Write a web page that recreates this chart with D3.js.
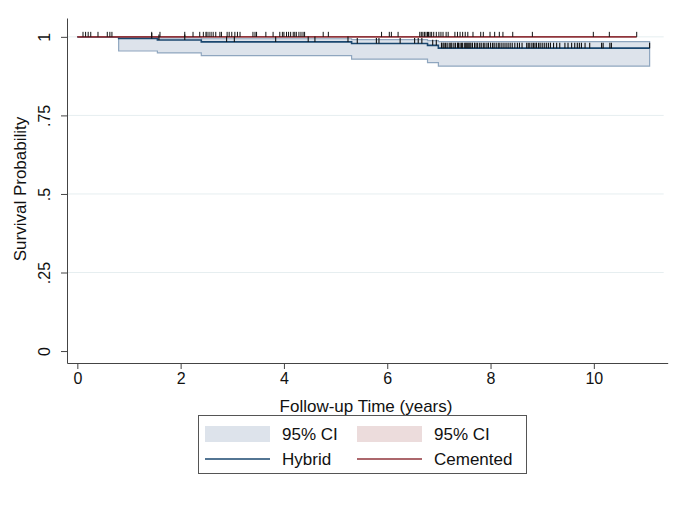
<!DOCTYPE html>
<html>
<head>
<meta charset="utf-8">
<script src="https://cdnjs.cloudflare.com/ajax/libs/d3/7.8.5/d3.min.js"></script>
<style>
  body { margin: 0; background: #fff; }
  text { font-family: "Liberation Sans", Arial, sans-serif; fill: #111; }
</style>
</head>
<body>
<div id="chart"></div>
<script>
// Kaplan-Meier steps
var hybridTimes = [0, 0.80, 1.55, 2.40, 5.31, 6.78, 6.99, 11.08];
var hybridSurv  = [1, 0.995, 0.990, 0.984, 0.979, 0.973, 0.964, 0.964];
var hybridLo    = [1, 0.955, 0.949, 0.940, 0.929, 0.918, 0.907, 0.907];
var hybridHi    = [1, 0.999, 0.997, 0.994, 0.991, 0.988, 0.985, 0.985];

var cementedTimes = [0, 10.83];
var cementedSurv  = [1, 1];

// censoring marks
var cementedCens = [0.11,0.16,0.21,0.26,0.40,0.58,0.63,0.67,1.44,1.60,2.08,2.24,
  2.37,2.44,2.49,2.51,2.55,2.59,2.63,2.68,2.76,2.79,2.90,2.94,2.99,3.05,3.10,3.15,
  3.40,3.44,3.47,3.65,3.79,3.92,3.97,4.00,4.05,4.09,4.13,4.18,4.21,4.24,4.29,4.33,
  4.37,4.40,4.76,4.86,5.89,6.04,6.08,6.21,6.63,6.66,6.69,6.72,6.75,6.78,6.80,6.83,
  6.86,6.90,6.95,7.00,7.04,7.08,7.14,7.18,7.31,7.36,7.41,7.46,7.51,7.56,7.66,7.81,
  7.86,7.99,8.08,8.17,8.24,8.43,8.81,9.99,10.30,10.83];

var hybridCens = [1.44,1.58,2.08,2.89,3.04,3.84,4.47,4.60,5.24,5.42,5.79,5.84,6.25,
  6.53,6.60,6.67,6.88,6.95,7.05,7.08,7.10,7.13,7.16,7.20,7.23,7.25,7.29,7.32,7.36,
  7.38,7.41,7.44,7.46,7.50,7.52,7.54,7.56,7.58,7.60,7.62,7.65,7.69,7.72,7.75,7.79,
  7.82,7.86,7.89,7.93,7.96,8.00,8.04,8.07,8.11,8.15,8.18,8.22,8.26,8.30,8.34,8.38,
  8.42,8.47,8.52,8.56,8.61,8.70,8.73,8.76,8.80,8.83,8.86,8.89,8.93,8.96,9.00,9.04,
  9.08,9.12,9.16,9.22,9.28,9.34,9.44,9.50,9.57,9.63,9.68,9.72,9.76,9.83,9.92,10.15,
  10.18,10.31,10.34,11.08];

var xTicks = [0, 2, 4, 6, 8, 10];
var yTicks = [0, 0.25, 0.5, 0.75, 1];
var yTickLabels = ["0", ".25", ".5", ".75", "1"];
var gridVals = [0.25, 0.5, 0.75, 1];

var w = 680, h = 519,
    svg = d3.select("#chart").append("svg")
        .attr("width", w)
        .attr("height", h);

var x = d3.scaleLinear().domain([-0.2, 11.43]).range([67, 667.7]);
var y = d3.scaleLinear().domain([-0.038, 1.06]).range([363, 18]);

// step function helper: value at t from step arrays
function stepAt(times, vals, t) {
  var i = d3.bisectRight(times, t) - 1;
  return vals[Math.max(0, i)];
}

// gridlines
svg.selectAll("line.grid")
    .data(gridVals)
  .enter().append("line")
    .attr("class", "grid")
    .attr("x1", x.range()[0]).attr("x2", x.range()[1] - 4)
    .attr("y1", function(d) { return y(d); })
    .attr("y2", function(d) { return y(d); })
    .attr("stroke", "#e6eef0")
    .attr("stroke-width", 1);

// CI band for hybrid (starts at first event)
var band = hybridTimes.map(function(t, i) {
  return { t: t, lo: hybridLo[i], hi: hybridHi[i] };
}).slice(1);

var area = d3.area()
    .curve(d3.curveStepAfter)
    .x(function(d) { return x(d.t); })
    .y0(function(d) { return y(d.lo); })
    .y1(function(d) { return y(d.hi); });

svg.append("path")
    .datum(band)
    .attr("d", area)
    .attr("fill", "#dde3eb")
    .attr("stroke", "#8fa6bf")
    .attr("stroke-width", 1.2);

var line = d3.line()
    .curve(d3.curveStepAfter)
    .x(function(d) { return x(d[0]); })
    .y(function(d) { return y(d[1]); });

svg.append("path")
    .datum(d3.zip(hybridTimes, hybridSurv))
    .attr("d", line)
    .attr("fill", "none")
    .attr("stroke", "#1a476f")
    .attr("stroke-width", 1.6);

svg.append("path")
    .datum(d3.zip(cementedTimes, cementedSurv))
    .attr("d", line)
    .attr("fill", "none")
    .attr("stroke", "#90353b")
    .attr("stroke-width", 1.6);

// censoring ticks
svg.selectAll("line.hc")
    .data(hybridCens)
  .enter().append("line")
    .attr("class", "hc")
    .attr("x1", function(d) { return x(d); })
    .attr("x2", function(d) { return x(d); })
    .attr("y1", function(d) { return y(stepAt(hybridTimes, hybridSurv, d)); })
    .attr("y2", function(d) { return y(stepAt(hybridTimes, hybridSurv, d)) - 5.5; })
    .attr("stroke", "#111")
    .attr("stroke-width", 1.1);

svg.selectAll("line.cc")
    .data(cementedCens)
  .enter().append("line")
    .attr("class", "cc")
    .attr("x1", function(d) { return x(d); })
    .attr("x2", function(d) { return x(d); })
    .attr("y1", function(d) { return y(stepAt(cementedTimes, cementedSurv, d)); })
    .attr("y2", function(d) { return y(stepAt(cementedTimes, cementedSurv, d)) - 5; })
    .attr("stroke", "#111")
    .attr("stroke-width", 1);

// axes
var xAxis = svg.append("g")
    .attr("transform", "translate(0," + y.range()[0] + ")")
    .call(d3.axisBottom(x).tickValues(xTicks).tickSize(6).tickSizeOuter(0).tickPadding(4));

var yAxis = svg.append("g")
    .attr("transform", "translate(" + x.range()[0] + ",0)")
    .call(d3.axisLeft(y).tickValues(yTicks).tickSize(6).tickSizeOuter(0)
      .tickFormat(function(d, i) { return yTickLabels[i]; }));

[xAxis, yAxis].forEach(function(g) {
  g.select(".domain").attr("stroke", "#444");
  g.selectAll(".tick line").attr("stroke", "#444");
  g.selectAll("text").style("font-family", "'Liberation Sans', Arial, sans-serif")
    .style("font-size", "16px").attr("fill", "#111");
});

yAxis.selectAll(".tick text")
    .attr("x", 0).attr("dy", 0)
    .attr("text-anchor", "middle")
    .attr("transform", "translate(-17,0) rotate(-90)");

// axis titles
svg.append("text")
    .attr("x", 366).attr("y", 412)
    .attr("text-anchor", "middle")
    .style("font-size", "17px")
    .text("Follow-up Time (years)");

svg.append("text")
    .attr("transform", "translate(26,189) rotate(-90)")
    .attr("text-anchor", "middle")
    .style("font-size", "17px")
    .text("Survival Probability");

// legend
var lg = svg.append("g");
lg.append("rect")
    .attr("x", 198.5).attr("y", 415.5).attr("width", 328).attr("height", 58)
    .attr("fill", "#fff").attr("stroke", "#555").attr("stroke-width", 1);

var legendItems = [
  { kind: "area", color: "#dde3eb", label: "95% CI", lx: 205, ly: 434 },
  { kind: "area", color: "#ecdcdc", label: "95% CI", lx: 357, ly: 434 },
  { kind: "line", color: "#1a476f", label: "Hybrid", lx: 205, ly: 459 },
  { kind: "line", color: "#90353b", label: "Cemented", lx: 357, ly: 459 }
];

legendItems.forEach(function(d) {
  if (d.kind === "area") {
    lg.append("rect").attr("x", d.lx).attr("y", d.ly - 8).attr("width", 65).attr("height", 16)
      .attr("fill", d.color);
  } else {
    lg.append("line").attr("x1", d.lx).attr("x2", d.lx + 65).attr("y1", d.ly).attr("y2", d.ly)
      .attr("stroke", d.color).attr("stroke-width", 1.6);
  }
  lg.append("text").attr("x", d.lx + 77).attr("y", d.ly + 6)
    .style("font-size", "17px").text(d.label);
});
</script>
</body>
</html>
